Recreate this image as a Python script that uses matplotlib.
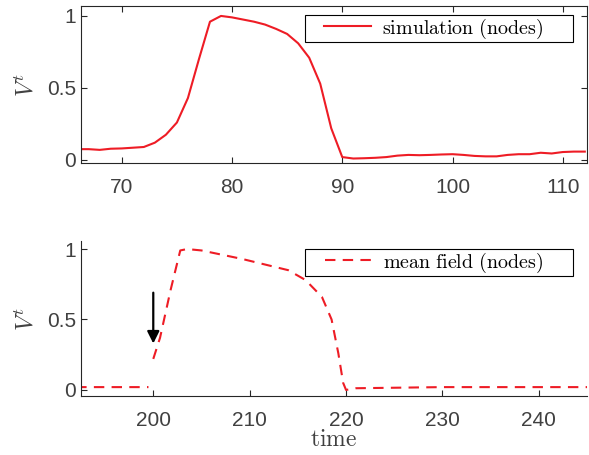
import matplotlib.pyplot as plt
from matplotlib.patches import Rectangle
import numpy as np

plt.rcParams['mathtext.fontset'] = 'cm'
plt.rcParams['font.family'] = ['Liberation Sans', 'DejaVu Sans']

# simulation (nodes)
t_sim = [66, 67, 68, 69, 70, 71, 72, 73, 74, 75, 76, 77, 78, 79, 80, 81, 82, 83, 84, 85,
         86, 87, 88, 89, 90, 91, 92, 93, 94, 95, 96, 97, 98, 99, 100, 101, 102, 103, 104,
         105, 106, 107, 108, 109, 110, 111, 112]
v_sim = [0.075, 0.075, 0.07, 0.078, 0.08, 0.085, 0.09, 0.12, 0.175, 0.26, 0.43, 0.70, 0.96,
         1.0, 0.99, 0.975, 0.96, 0.94, 0.91, 0.875, 0.81, 0.71, 0.53, 0.22, 0.02, 0.01,
         0.012, 0.015, 0.02, 0.03, 0.035, 0.033, 0.035, 0.038, 0.04, 0.035, 0.028, 0.025,
         0.025, 0.035, 0.04, 0.04, 0.05, 0.045, 0.055, 0.058, 0.058]

# mean field (nodes)
t_mf = [192, 199.5, 200, 200, 200.7, 201.8, 202.8, 203.5, 205, 209.2, 214, 215.8, 217.5,
        218.5, 219.2, 219.7, 220, 221, 230, 246]
v_mf = [0.02, 0.02, np.nan, 0.22, 0.37, 0.71, 0.99, 1.0, 0.99, 0.93, 0.85, 0.78, 0.66,
        0.50, 0.26, 0.05, 0.0, 0.012, 0.02, 0.02]

red = '#ee1c25'
grey = '#262626'
txt = '#404040'

fig = plt.figure(figsize=(5.89, 4.55), dpi=100)
ax1 = fig.add_axes([0.1375, 0.6418, 0.8591, 0.345])
ax2 = fig.add_axes([0.1375, 0.1297, 0.8591, 0.3406])

ax1.plot(t_sim, v_sim, color=red, lw=1.5, label=r'$\mathrm{simulation\ (nodes)}$')
ax1.set_xlim(66.3, 112.2)
ax1.set_ylim(-0.021, 1.069)
ax1.set_xticks([70, 80, 90, 100, 110])
ax1.set_yticks([0, 0.5, 1])
ax1.set_yticklabels(['0', '0.5', '1'])
ax1.tick_params(direction='in', top=True, right=True, labelsize=15, colors=grey,
                labelcolor=txt, length=4)
ax1.tick_params(axis='x', pad=11)
ax1.set_ylabel(r'$V^t$', fontsize=17, color=txt, labelpad=6)

ax2.plot(t_mf, v_mf, color=red, lw=1.5, dashes=(5, 3.5), label=r'$\mathrm{mean\ field\ (nodes)}$')
ax2.annotate('', xy=(200, 0.31), xytext=(200, 0.71),
             arrowprops=dict(arrowstyle='-|>', color='black', lw=1.6, mutation_scale=18))
ax2.set_xlim(192.5, 245)
ax2.set_ylim(-0.043, 1.057)
ax2.set_xticks([200, 210, 220, 230, 240])
ax2.set_yticks([0, 0.5, 1])
ax2.set_yticklabels(['0', '0.5', '1'])
ax2.tick_params(direction='in', labelsize=15, colors=grey, labelcolor=txt, length=4)
ax2.tick_params(axis='x', pad=11)
ax2.spines['top'].set_visible(False)
ax2.spines['right'].set_visible(False)
ax2.set_ylabel(r'$V^t$', fontsize=17, color=txt, labelpad=6)
ax2.set_xlabel(r'$\mathrm{time}$', fontsize=17, color=txt, labelpad=-1)

# legends: MATLAB-style boxes drawn separately
for ax, cy, by in ((ax1, 0.9374, 0.9077), (ax2, 0.4231, 0.3934)):
    ax.legend(loc='center', bbox_to_anchor=(0.736, cy), bbox_transform=fig.transFigure,
              fontsize=14.4, frameon=False, handlelength=2.35, handletextpad=0.55,
              borderpad=0, borderaxespad=0)
    fig.add_artist(Rectangle((0.5178, by), 0.455, 0.0593, transform=fig.transFigure,
                             facecolor='white', edgecolor='black', lw=0.8, zorder=2))
    for s in ax.spines.values():
        s.set_color(grey)
    ax.set_zorder(3)
    ax.patch.set_alpha(0)

fig.savefig('out.png', dpi=100)
